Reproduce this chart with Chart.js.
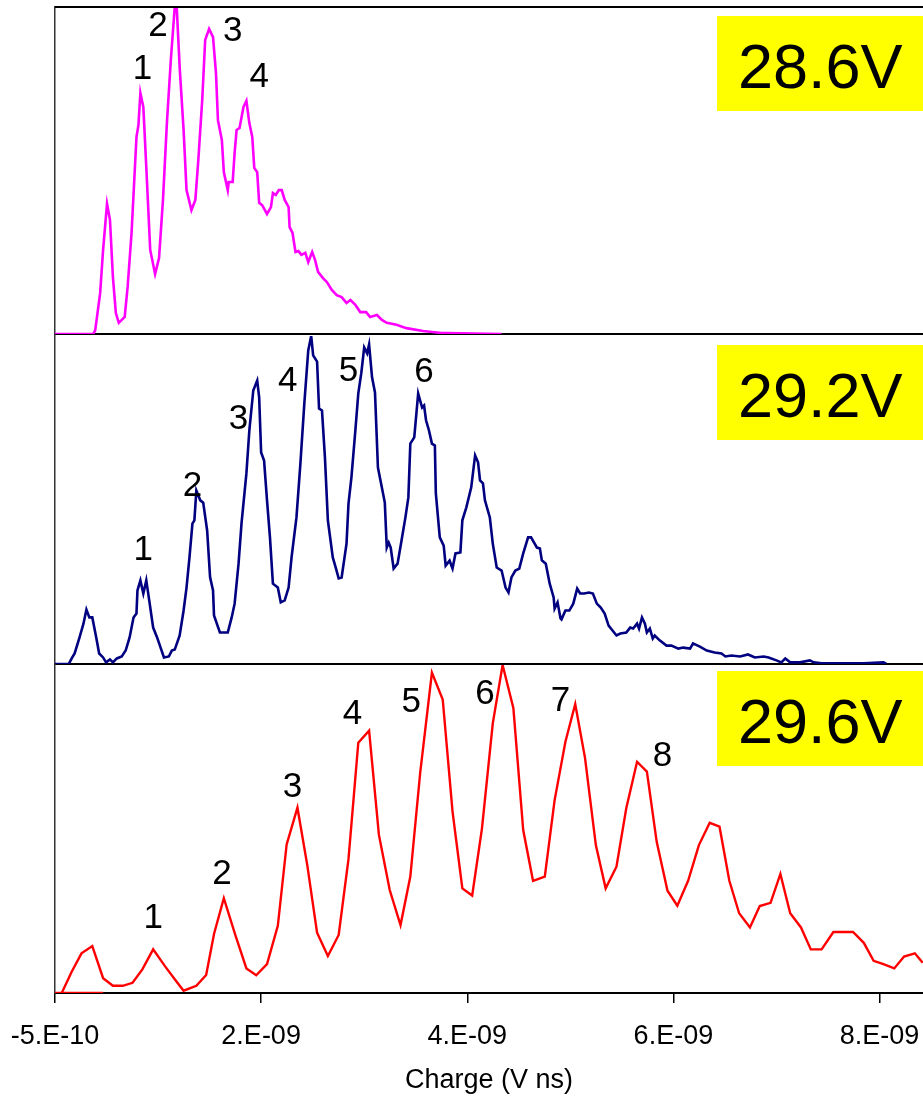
<!DOCTYPE html>
<html>
<head>
<meta charset="utf-8">
<script src="https://cdn.jsdelivr.net/npm/chart.js@4/dist/chart.umd.min.js"></script>
<style>
  html, body { margin: 0; padding: 0; background: #fff; }
  body { width: 923px; height: 1097px; position: relative; overflow: hidden;
         font-family: "Liberation Sans", Arial, sans-serif; }
  .panel { position: absolute; left: 0; width: 923px; }
  .volt { position: absolute; left: 717px; width: 206px; height: 95px; background: #ffff00;
          box-sizing: border-box; padding: 19px 0 0 21px; font-size: 63px; line-height: 63px; color: #000; }
</style>
</head>
<body>
<div class="panel" style="top:0;height:340px"><canvas id="c286"></canvas></div>
<div class="panel" style="top:330px;height:340px"><canvas id="c292"></canvas></div>
<div class="panel" style="top:660px;height:437px"><canvas id="c296"></canvas></div>
<div class="volt" style="top:16px">28.6V</div>
<div class="volt" style="top:345px">29.2V</div>
<div class="volt" style="top:671px">29.6V</div>
<script>
// charge in units of 1e-9 V ns, counts normalised to the tallest peak of each panel
const xMin = -0.5, xMax = 8.343;
const tickValues = [-0.5, 1.6, 3.7, 5.8, 7.9];

// 28.6 V
const charge286 = [-0.50,-0.11,-0.09,-0.04,-0.01,0.03,0.06,0.09,0.12,0.15,
  0.21,0.24,0.28,0.33,0.35,0.37,0.40,0.43,0.47,0.52,
  0.56,0.60,0.64,0.68,0.72,0.74,0.77,0.81,0.84,0.89,
  0.93,0.96,1.00,1.03,1.07,1.11,1.14,1.16,1.20,1.22,
  1.26,1.27,1.31,1.33,1.35,1.38,1.42,1.45,1.48,1.51,
  1.53,1.56,1.58,1.61,1.66,1.70,1.72,1.75,1.78,1.81,
  1.84,1.88,1.89,1.92,1.95,1.98,2.01,2.05,2.08,2.12,
  2.15,2.18,2.23,2.27,2.32,2.37,2.42,2.47,2.51,2.56,
  2.61,2.67,2.71,2.78,2.83,2.88,2.98,3.08,3.25,3.44,
  3.49,4.05];
const counts286 = [0,0,1.2,12.5,25.7,39.8,34.9,17.4,6.4,3.4,
  5.2,14.4,30.9,60.2,63.9,73.7,69.4,51.1,25.7,18.3,
  23.2,41.0,64.5,83.8,100,100,81.6,62.4,44.0,37.9,
  41.0,53.2,71.6,89.9,93.3,90.8,79.8,65.4,59.3,49.5,
  44.0,46.5,46.5,55.4,62.4,63.0,69.4,71.3,64.5,60.2,
  50.8,49.5,40.1,39.4,36.7,38.8,43.1,42.5,44.0,44.0,
  41.0,38.8,32.7,30.9,25.1,25.4,24.2,24.8,22.0,25.1,
  22.6,19.0,17.1,15.9,13.5,11.9,11.3,9.5,10.4,8.9,
  6.7,6.7,5.2,5.8,4.3,3.4,2.8,1.8,0.9,0.3,
  0.3,0];
const peaks286 = ['1','2','3','4'];
const peakX286 = [0.39, 0.55, 1.31, 1.58];
const peakY286 = [81.0, 94.0, 92.5, 78.5];

// 29.2 V
const charge292 = [-0.50,-0.36,-0.33,-0.30,-0.25,-0.21,-0.18,-0.15,-0.12,-0.08,
  -0.05,-0.01,0.02,0.06,0.09,0.13,0.18,0.22,0.26,0.30,
  0.33,0.34,0.37,0.40,0.43,0.46,0.50,0.54,0.61,0.66,
  0.69,0.72,0.77,0.81,0.84,0.87,0.90,0.92,0.94,0.98,
  1.01,1.05,1.08,1.11,1.12,1.18,1.26,1.30,1.33,1.37,
  1.40,1.45,1.48,1.52,1.56,1.58,1.60,1.63,1.66,1.69,
  1.72,1.77,1.80,1.84,1.88,1.91,1.96,2.00,2.04,2.08,
  2.11,2.13,2.17,2.19,2.22,2.25,2.28,2.33,2.36,2.39,
  2.42,2.47,2.49,2.52,2.56,2.59,2.62,2.65,2.68,2.70,
  2.73,2.76,2.79,2.83,2.86,2.88,2.90,2.92,2.95,2.99,
  3.03,3.07,3.10,3.12,3.16,3.20,3.24,3.26,3.28,3.31,
  3.34,3.37,3.38,3.42,3.46,3.48,3.52,3.55,3.58,3.63,
  3.65,3.69,3.74,3.78,3.81,3.83,3.86,3.88,3.93,3.96,
  4.00,4.05,4.09,4.12,4.15,4.19,4.23,4.27,4.32,4.35,
  4.41,4.44,4.46,4.50,4.54,4.58,4.59,4.62,4.65,4.66,
  4.70,4.74,4.78,4.82,4.85,4.89,4.94,4.98,5.02,5.06,
  5.10,5.14,5.18,5.22,5.26,5.32,5.36,5.39,5.43,5.45,
  5.48,5.51,5.53,5.56,5.59,5.61,5.66,5.73,5.78,5.85,
  5.90,5.97,6.00,6.07,6.14,6.22,6.29,6.33,6.39,6.48,
  6.56,6.63,6.72,6.77,6.85,6.90,6.94,6.99,7.09,7.19,
  7.23,7.31,7.43,7.74,7.94,7.97];
const counts292 = [0,0,1.7,3.2,8.1,12.3,16.6,14.2,14.2,8.1,
  3.2,2.0,0.5,1.4,0.5,1.7,2.3,4.1,8.1,14.2,
  15.4,22.4,25.5,21.5,25.5,19.4,11.1,8.1,2.0,2.3,
  4.1,4.4,8.7,16.3,23.3,32.5,42.8,43.8,52.9,49.9,
  49.2,40.7,26.4,22.4,14.8,9.6,9.6,14.2,18.4,30.6,
  42.8,58.1,71.2,83.4,86.4,81.3,64.5,62.0,49.9,38.6,
  24.5,23.3,18.8,19.4,23.3,32.5,44.7,61.1,79.4,95.6,
  100,94.1,92.2,77.9,77.3,63.0,43.8,32.5,29.4,26.1,
  26.4,36.7,48.9,56.9,71.2,82.5,88.6,96.5,94.7,97.4,
  87.4,82.8,59.9,53.8,49.2,35.5,37.0,35.5,29.1,30.6,
  37.6,44.7,50.8,67.2,69.1,82.5,78.2,78.8,74.3,71.2,
  67.2,66.6,52.0,38.6,36.1,30.0,31.5,29.1,33.7,34.0,
  43.8,47.7,53.8,63.6,61.5,56.0,55.1,49.9,44.7,36.7,
  29.4,28.5,23.3,21.8,26.4,28.5,29.1,33.7,38.6,38.6,
  35.5,35.2,31.6,30.6,24.5,20.3,16.9,18.8,13.9,13.6,
  16.3,16.3,18.4,23.0,21.5,21.5,21.8,21.5,18.4,17.2,
  15.4,11.7,10.2,8.7,9.3,9.6,11.1,10.8,12.3,10.8,
  14.2,12.3,9.6,10.8,7.8,8.7,7.2,5.6,5.6,4.7,
  5.0,4.7,6.3,5.3,4.1,3.5,3.2,2.3,2.6,2.3,
  2.9,2.0,2.3,2.0,1.1,0.5,1.7,0.5,0.5,1.1,
  0.5,0.2,0.2,0.2,0.5,0];
const peaks292 = ['1','2','3','4','5','6'];
const peakX292 = [0.40, 0.90, 1.37, 1.87, 2.49, 3.26];
const peakY292 = [34.8, 54.3, 74.5, 86.3, 89.3, 89.0];

// 29.6 V
const charge296 = [-0.43,-0.33,-0.23,-0.12,-0.01,0.09,0.19,0.29,0.39,0.50,
  0.62,0.72,0.81,0.94,1.04,1.12,1.22,1.34,1.45,1.55,
  1.66,1.77,1.86,1.97,2.07,2.17,2.28,2.39,2.49,2.59,
  2.70,2.80,2.91,3.02,3.12,3.22,3.34,3.45,3.55,3.65,
  3.75,3.85,3.96,4.06,4.17,4.27,4.37,4.49,4.59,4.70,
  4.80,4.90,5.01,5.11,5.22,5.32,5.43,5.53,5.63,5.74,
  5.84,5.95,6.06,6.17,6.27,6.37,6.47,6.58,6.68,6.79,
  6.89,6.99,7.10,7.20,7.31,7.43,7.53,7.63,7.74,7.84,
  7.94,8.05,8.15,8.26,8.34];
const counts296 = [0.1,6.5,12.1,14.3,4.5,2.2,2.2,3.1,7.2,13.3,
  8.2,4.2,0.7,2.2,5.5,18.0,28.9,17.4,7.5,5.4,
  8.8,20.5,45.3,56.5,39.0,18.4,11.3,17.7,40.8,76.3,
  80.0,48.2,31.4,20.7,35.5,67.0,97.7,89.5,55.3,31.9,
  29.7,50.2,82.2,100,86.8,49.7,34.2,35.5,58.8,76.6,
  88.1,71.6,45.1,31.9,38.5,56.3,70.5,67.5,46.1,31.2,
  26.6,34.2,45.1,51.9,50.7,34.2,24.3,20.0,26.5,27.5,
  36.3,24.3,20.0,13.3,13.3,18.6,18.6,18.6,15.3,9.8,
  8.8,7.5,11.1,12.1,9.2];
const base296Charge = [-0.5, -0.01];
const base296Counts = [0, 0];
const peaks296 = ['1','2','3','4','5','6','7','8'];
const peakX296 = [0.50, 1.20, 1.92, 2.53, 3.13, 3.88, 4.65, 5.69];
const peakY296 = [22.9, 36.1, 62.7, 84.9, 88.6, 91.0, 89.0, 72.1];

Chart.defaults.font.family = '"Liberation Sans", Arial, sans-serif';
Chart.defaults.color = '#000';

function toPoints(xs, ys) {
  return xs.map((x, i) => ({ x: x, y: ys[i] }));
}

// Excel style "0.E+00" labels
function excelExp(v) {
  const parts = (v * 1e-9).toExponential(0).split('e');
  const exp = parseInt(parts[1], 10);
  return parts[0] + '.E' + (exp < 0 ? '-' : '+') + String(Math.abs(exp)).padStart(2, '0');
}

function peakLabels(names, xs, ys) {
  return {
    id: 'peakLabels',
    afterDatasetsDraw(chart) {
      const { ctx, scales: { x, y } } = chart;
      ctx.save();
      ctx.font = '35px "Liberation Sans", Arial, sans-serif';
      ctx.fillStyle = '#000';
      ctx.textAlign = 'center';
      ctx.textBaseline = 'middle';
      names.forEach((t, i) => ctx.fillText(t, x.getPixelForValue(xs[i]), y.getPixelForValue(ys[i])));
      ctx.restore();
    }
  };
}

const topBorder = {
  id: 'topBorder',
  afterDraw(chart) {
    const { ctx, chartArea } = chart;
    ctx.save();
    ctx.strokeStyle = '#000';
    ctx.lineWidth = 2;
    ctx.beginPath();
    ctx.moveTo(chartArea.left, chartArea.top);
    ctx.lineTo(chartArea.right, chartArea.top);
    ctx.stroke();
    ctx.restore();
  }
};

function panelOptions(padTop, axisHeight, showAxis) {
  return {
    responsive: true,
    maintainAspectRatio: false,
    animation: false,
    layout: { padding: { top: padTop, left: 0, right: 0, bottom: 0 } },
    plugins: { legend: { display: false }, tooltip: { enabled: false } },
    elements: { point: { radius: 0 }, line: { tension: 0 } },
    scales: {
      x: {
        type: 'linear', min: xMin, max: xMax,
        afterBuildTicks: s => { s.ticks = tickValues.map(v => ({ value: v })); },
        afterFit: s => { s.height = axisHeight; s.paddingLeft = 0; s.paddingRight = 0; },
        grid: { display: showAxis, drawOnChartArea: false, drawTicks: showAxis, tickLength: 10, color: '#000', lineWidth: 1.5 },
        border: { display: true, color: '#000', width: 2 },
        ticks: { display: showAxis, autoSkip: false, maxRotation: 0, padding: 17, color: '#000',
                 font: { size: 27 }, callback: v => excelExp(v) },
        title: { display: showAxis, text: 'Charge (V ns)', color: '#000', font: { size: 27 }, padding: 0 }
      },
      y: {
        min: 0, max: 100,
        afterFit: s => { s.width = 55; },
        grid: { display: false },
        border: { display: true, color: '#333', width: 1.5 },
        ticks: { display: false }
      }
    }
  };
}

new Chart(document.getElementById('c286'), {
  type: 'line',
  data: { datasets: [{ data: toPoints(charge286, counts286), borderColor: '#ff00ff', borderWidth: 2.6, fill: false }] },
  options: panelOptions(7, 6, false),
  plugins: [peakLabels(peaks286, peakX286, peakY286), topBorder]
});

new Chart(document.getElementById('c292'), {
  type: 'line',
  data: { datasets: [{ data: toPoints(charge292, counts292), borderColor: '#000080', borderWidth: 2.6, fill: false }] },
  options: panelOptions(6, 6, false),
  plugins: [peakLabels(peaks292, peakX292, peakY292)]
});

new Chart(document.getElementById('c296'), {
  type: 'line',
  data: { datasets: [
    { data: toPoints(charge296, counts296), borderColor: '#ff0000', borderWidth: 2.4, fill: false },
    { data: toPoints(base296Charge, base296Counts), borderColor: '#ff0000', borderWidth: 2.4, fill: false }
  ] },
  options: panelOptions(5, 104, true),
  plugins: [peakLabels(peaks296, peakX296, peakY296)]
});
</script>
</body>
</html>
